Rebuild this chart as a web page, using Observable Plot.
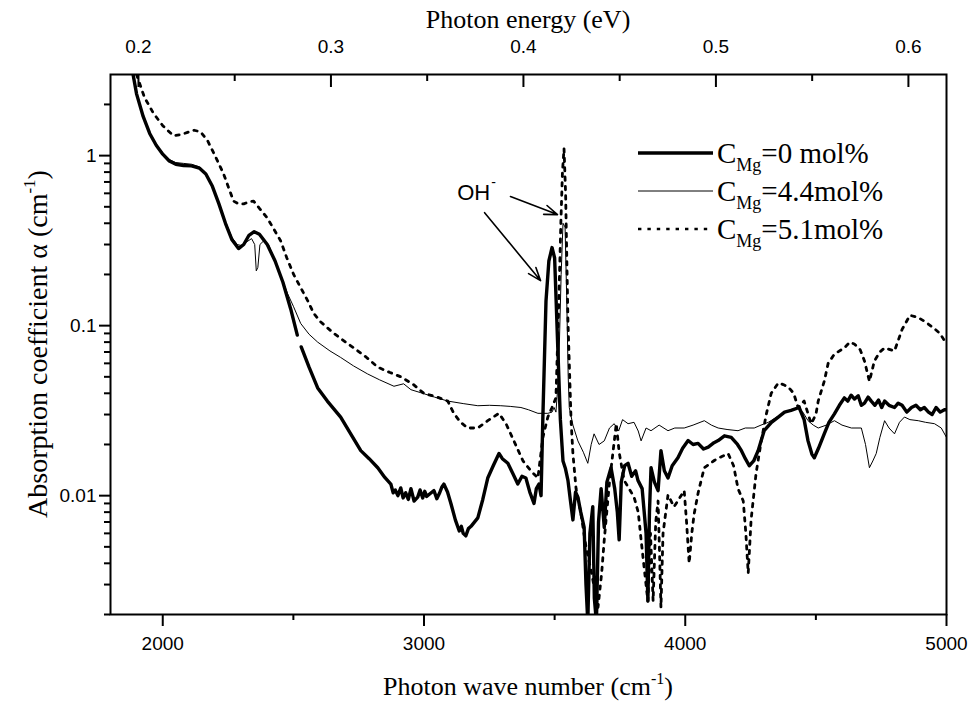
<!DOCTYPE html>
<html><head><meta charset="utf-8">
<script src="https://cdn.jsdelivr.net/npm/d3@7"></script>
<script src="https://cdn.jsdelivr.net/npm/@observablehq/plot@0.6"></script>
<style>body{margin:0;background:#fff}#chart svg{display:block}</style>
</head><body><div id="chart"></div>
<script>
// ---- series: C_Mg = 0 mol% (thick solid)
const w0 = [1880,1900,1925,1950,1975,2000,2025,2050,2080,2110,2140,2165,2190,2215,2240,2265,2290,2310,2330,2350,2370,2400,2430,2460,2490,2515,2522,2530,2560,2593,2630,2681,2720,2758,2790,2823,2850,2873,2882,2890,2900,2911,2920,2930,2940,2950,2962,2976,2985,2995,3003,3010,3024,3038,3049,3060,3068,3076,3090,3103,3120,3135,3143,3150,3160,3170,3180,3206,3225,3244,3265,3287,3300,3321,3340,3359,3375,3390,3405,3421,3430,3440,3448,3455,3467,3478,3490,3500,3513,3522,3532,3541,3551,3560,3570,3580,3589,3600,3613,3620,3627,3635,3646,3652,3660,3668,3678,3690,3700,3716,3730,3740,3747,3755,3768,3781,3795,3810,3819,3835,3850,3857,3863,3869,3882,3896,3907,3920,3934,3950,3972,3990,4011,4030,4049,4070,4088,4110,4126,4150,4176,4200,4215,4230,4245,4262,4279,4302,4330,4356,4380,4405,4436,4455,4470,4485,4494,4510,4532,4550,4571,4590,4609,4622,4635,4648,4662,4674,4686,4700,4712,4726,4740,4752,4763,4780,4801,4815,4830,4848,4866,4883,4900,4915,4931,4945,4960,4976,4992,5000];
const a0 = [3.4,2.3,1.7,1.35,1.15,1.02,0.93,0.89,0.875,0.87,0.845,0.78,0.66,0.52,0.40,0.32,0.284,0.30,0.34,0.357,0.345,0.30,0.24,0.18,0.125,0.088,null,0.075,0.057,0.043,0.036,0.029,0.023,0.0184,0.0165,0.0146,0.0128,0.0117,0.0104,0.0108,0.0100,0.0111,0.0097,0.0104,0.0095,0.0110,0.0093,0.0098,0.0108,0.0097,0.0106,0.0099,0.0103,0.0107,0.0096,0.0104,0.0112,0.0117,0.0105,0.0090,0.0072,0.0062,0.0066,0.0060,0.0058,0.0064,0.0066,0.0074,0.0095,0.0127,0.0150,0.0177,0.0165,0.0155,0.0135,0.0117,0.0130,0.0127,0.0105,0.0090,0.0110,0.0117,0.0100,0.029,0.14,0.24,0.288,0.25,0.068,0.028,0.016,0.0145,0.0123,0.0095,0.0072,0.0105,0.0098,0.0080,0.0065,0.0030,0.0018,0.0060,0.0086,0.0025,0.0018,0.0070,0.011,0.0065,0.0120,0.0146,0.0110,0.0080,0.0055,0.0120,0.0150,0.0155,0.0130,0.0140,0.0123,0.0110,0.0060,0.0024,0.0080,0.0146,0.0120,0.0107,0.0184,0.0140,0.0127,0.0150,0.0167,0.0190,0.0211,0.0200,0.0203,0.0188,0.0193,0.0205,0.0211,0.0225,0.0220,0.0200,0.0184,0.0165,0.0150,0.0160,0.0184,0.0241,0.0270,0.029,0.031,0.0317,0.033,0.028,0.021,0.0175,0.0167,0.019,0.0231,0.027,0.0303,0.034,0.0376,0.036,0.039,0.037,0.0387,0.034,0.035,0.038,0.036,0.034,0.0365,0.033,0.036,0.034,0.033,0.035,0.034,0.031,0.033,0.034,0.032,0.033,0.031,0.030,0.033,0.031,0.032,0.032];

// ---- series: C_Mg = 4.4 mol% (thin solid)
const w1 = [1880,1900,1925,1950,1975,2000,2025,2050,2080,2110,2140,2165,2190,2215,2240,2265,2285,2300,2320,2340,2352,2358,2364,2372,2387,2405,2425,2450,2478,2500,2528,2560,2593,2640,2681,2730,2784,2830,2885,2922,2950,2988,3040,3091,3150,3206,3250,3294,3330,3371,3400,3436,3474,3490,3498,3505,3515,3525,3532,3540,3546,3552,3556,3570,3589,3610,3627,3640,3651,3670,3690,3710,3728,3745,3760,3781,3804,3820,3831,3850,3869,3900,3934,3960,3996,4030,4073,4100,4126,4160,4202,4230,4264,4290,4318,4350,4379,4405,4432,4450,4470,4490,4509,4540,4571,4600,4636,4674,4690,4705,4718,4731,4745,4763,4780,4801,4820,4839,4860,4892,4920,4954,4980,5000];
const a1 = [3.4,2.3,1.7,1.36,1.16,1.04,0.95,0.91,0.90,0.89,0.86,0.79,0.67,0.53,0.41,0.33,0.30,0.296,0.31,0.325,0.30,0.21,0.22,0.30,0.316,0.30,0.25,0.20,0.154,0.13,0.103,0.089,0.080,0.071,0.065,0.058,0.052,0.048,0.044,0.0455,0.042,0.0403,0.038,0.036,0.0348,0.0338,0.034,0.0338,0.0335,0.033,0.032,0.0305,0.0305,0.031,0.033,0.031,0.05,0.2,0.40,0.38,0.15,0.05,0.033,0.026,0.021,0.018,0.0155,0.020,0.0231,0.020,0.021,0.025,0.0265,0.024,0.028,0.0265,0.027,0.024,0.021,0.025,0.0241,0.026,0.0241,0.025,0.025,0.026,0.0276,0.026,0.025,0.0245,0.0241,0.025,0.025,0.026,0.027,0.029,0.0305,0.032,0.033,0.031,0.0276,0.026,0.025,0.026,0.0276,0.026,0.025,0.025,0.020,0.0146,0.016,0.0177,0.022,0.0276,0.025,0.0231,0.027,0.029,0.028,0.0276,0.027,0.0265,0.025,0.022];

// ---- series: C_Mg = 5.1 mol% (dotted)
const w2 = [1890,1903,1930,1965,2000,2041,2070,2095,2120,2145,2172,2200,2233,2255,2271,2290,2310,2330,2348,2370,2400,2425,2451,2475,2501,2530,2555,2578,2605,2655,2700,2731,2780,2823,2870,2911,2960,2999,3050,3091,3114,3140,3168,3206,3244,3287,3314,3344,3379,3409,3436,3455,3474,3490,3505,3515,3524,3530,3536,3542,3551,3563,3570,3582,3601,3620,3640,3666,3680,3690,3710,3736,3747,3766,3785,3804,3820,3831,3845,3857,3867,3877,3887,3896,3901,3907,3915,3934,3957,3975,3996,4005,4015,4025,4034,4050,4061,4073,4111,4140,4164,4185,4202,4222,4232,4241,4252,4271,4291,4310,4329,4356,4375,4394,4415,4432,4455,4482,4500,4509,4532,4547,4571,4609,4630,4647,4670,4686,4705,4724,4745,4763,4801,4830,4860,4890,4920,4950,4975,5000];
const a2 = [3.4,2.9,2.2,1.77,1.5,1.31,1.33,1.37,1.41,1.38,1.22,1.0,0.78,0.63,0.54,0.52,0.52,0.535,0.54,0.49,0.43,0.37,0.316,0.25,0.20,0.165,0.14,0.118,0.105,0.09,0.08,0.074,0.065,0.057,0.053,0.05,0.045,0.040,0.038,0.036,0.0305,0.027,0.025,0.025,0.0276,0.0305,0.0265,0.021,0.016,0.014,0.0127,0.022,0.029,0.033,0.0376,0.12,0.41,0.8,1.1,0.6,0.107,0.0276,0.0177,0.011,0.0078,0.0050,0.0036,0.0022,0.0035,0.0055,0.012,0.0265,0.018,0.0123,0.011,0.0098,0.0080,0.0055,0.0035,0.0024,0.0060,0.0024,0.0070,0.0093,0.0050,0.0022,0.0060,0.0101,0.0086,0.0095,0.0107,0.0070,0.0040,0.0060,0.0078,0.0105,0.0123,0.0146,0.0161,0.0170,0.0177,0.0150,0.011,0.0093,0.0060,0.0035,0.0072,0.0135,0.021,0.030,0.040,0.046,0.045,0.0436,0.040,0.033,0.036,0.0265,0.030,0.036,0.047,0.06,0.068,0.074,0.080,0.078,0.072,0.062,0.047,0.062,0.070,0.074,0.071,0.095,0.115,0.112,0.105,0.097,0.09,0.078];

// ---- axes ticks and labels
const xMajor = [2000,3000,4000,5000];
const xMinor = [2500,3500,4500];
const yMajor = [0.01,0.1,1];
const yMinor = [0.002,0.003,0.004,0.005,0.006,0.007,0.008,0.009,0.02,0.03,0.04,0.05,0.06,0.07,0.08,0.09,0.2,0.3,0.4,0.5,0.6,0.7,0.8,0.9,2];
const eMajor = [0.2,0.3,0.4,0.5,0.6];
const eMinor = [0.25,0.35,0.45,0.55];
const legendLabels = [["C","Mg","=0 mol%"],["C","Mg","=4.4mol%"],["C","Mg","=5.1mol%"]];

// annotation (OH- band)
const ohNote = [{w:3190, a:0.606, label:"OH"}];
const ohArrows = [{w1:3232,a1:0.462,w2:3446,a2:0.184},{w1:3331,a1:0.574,w2:3511,a2:0.45}];

// top axis (photon energy) is linear in eV along the wavenumber axis, as drawn in the reference
const E0w = 1907, wPerEV = 7368;
const wOfE = e => E0w + (e - 0.2) * wPerEV;
const eOfW = w => (w - E0w) / wPerEV + 0.2;

const rows = (w, a) => w.map((x, i) => ({w: x, a: a[i]}));
const d0 = rows(w0, a0), d1 = rows(w1, a1), d2 = rows(w2, a2);

const W = 969, H = 702, mL = 110, mR = 23, mT = 74, mB = 88;
const plotH = H - mT - mB;
const sans = "Liberation Sans, Arial, sans-serif";
const serif = "Liberation Serif, Times New Roman, serif";
const dots = "3.4 6";

const chart = Plot.plot({
  width: W, height: H,
  marginLeft: mL, marginRight: mR, marginTop: mT, marginBottom: mB,
  style: {fontFamily: sans, color: "#000", background: "#fff"},
  x: {type: "linear", domain: [1800, 5000]},
  y: {type: "log", domain: [0.002, 3]},
  marks: [
    Plot.line(d2, {x: "w", y: "a", stroke: "#000", strokeWidth: 2.8, strokeDasharray: dots, clip: true}),
    Plot.line(d1, {x: "w", y: "a", stroke: "#000", strokeWidth: 1, clip: true}),
    Plot.line(d0, {x: "w", y: "a", stroke: "#000", strokeWidth: 3.4, strokeLinejoin: "round", clip: true}),
    Plot.axisX({anchor: "bottom", ticks: xMajor, tickSize: 12, tickPadding: 10, tickFormat: d3.format("d"), fontSize: 19, strokeWidth: 2, label: null}),
    Plot.axisX({anchor: "bottom", ticks: xMinor, tickSize: 6, tickFormat: () => "", strokeWidth: 2, label: null}),
    Plot.axisY({anchor: "left", ticks: yMajor, tickSize: 11, tickPadding: 3, tickFormat: d => String(d), fontSize: 19, strokeWidth: 2, label: null}),
    Plot.axisY({anchor: "left", ticks: yMinor, tickSize: 6, tickFormat: () => "", strokeWidth: 2, label: null}),
    Plot.axisX({anchor: "top", ticks: eMajor.map(wOfE), tickSize: 0, tickPadding: 22, tickFormat: d => d3.format(".1f")(eOfW(d)), fontSize: 19, label: null}),
    Plot.ruleX(eMajor.map(wOfE), {stroke: "#000", strokeWidth: 2, insetBottom: plotH - 13}),
    Plot.ruleX(eMinor.map(wOfE), {stroke: "#000", strokeWidth: 2, insetBottom: plotH - 7}),
    Plot.frame({stroke: "#000", strokeWidth: 2}),
    Plot.arrow(ohArrows, {x1: "w1", y1: "a1", x2: "w2", y2: "a2", stroke: "#000", strokeWidth: 1.6, headLength: 13, headAngle: 40, bend: false}),
    Plot.text(ohNote, {x: "w", y: "a", text: "label", fontSize: 22, fontFamily: sans, textAnchor: "middle", fill: "#000"}),
    Plot.text(ohNote, {x: "w", y: "a", text: () => "-", dx: 20, dy: -10, fontSize: 14, fontFamily: sans, fill: "#000"})
  ]
});

const svg = d3.select(chart);
// axis titles with superscripts
svg.append("text").attr("x", (mL + W - mR) / 2).attr("y", 28).attr("text-anchor", "middle")
  .attr("font-family", serif).attr("font-size", 26).attr("fill", "#000").text("Photon energy (eV)");
const t2 = svg.append("text").attr("x", (mL + W - mR) / 2).attr("y", 695).attr("text-anchor", "middle")
  .attr("font-family", serif).attr("font-size", 26).attr("fill", "#000");
t2.append("tspan").text("Photon wave number (cm");
t2.append("tspan").attr("font-size", 16).attr("dy", -11).text("-1");
t2.append("tspan").attr("dy", 11).text(")");
const t3 = svg.append("text").attr("transform", "translate(47," + (mT + plotH / 2) + ") rotate(-90)").attr("text-anchor", "middle")
  .attr("font-family", serif).attr("font-size", 28).attr("fill", "#000");
t3.append("tspan").text("Absorption coefficient \u03b1 (cm");
t3.append("tspan").attr("font-size", 17).attr("dy", -12).text("-1");
t3.append("tspan").attr("dy", 12).text(")");

// legend
const lg = svg.append("g").attr("text-anchor", "start");
const styles = [{sw: 3.4, da: null}, {sw: 1, da: null}, {sw: 2.6, da: dots}];
legendLabels.forEach((lab, i) => {
  const y = 153 + i * 38;
  const ln = lg.append("line").attr("x1", 638).attr("x2", 713).attr("y1", y).attr("y2", y)
    .attr("stroke", "#000").attr("stroke-width", styles[i].sw);
  if (styles[i].da) ln.attr("stroke-dasharray", styles[i].da);
  const tx = lg.append("text").attr("x", 717).attr("y", y + 10).attr("text-anchor", "start")
    .attr("font-family", serif).attr("font-size", 29).attr("fill", "#000");
  tx.append("tspan").text(lab[0]);
  tx.append("tspan").attr("font-size", 18).attr("dy", 8).text(lab[1]);
  tx.append("tspan").attr("dy", -8).text(lab[2]);
});

document.getElementById("chart").append(chart);
</script>
</body></html>
